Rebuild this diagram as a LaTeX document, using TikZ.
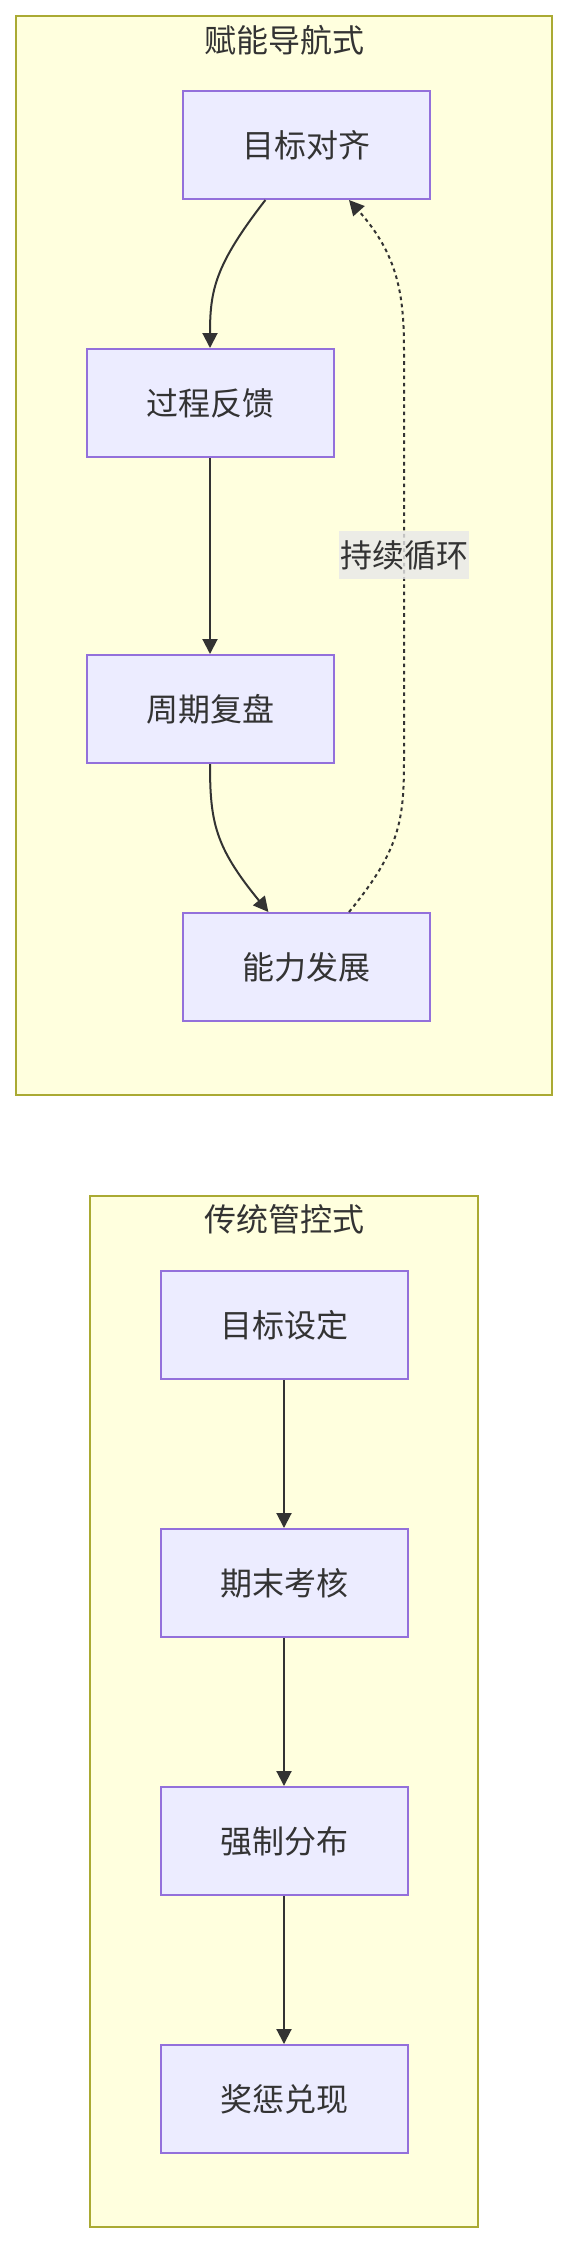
\documentclass[tikz,border=0pt]{standalone}
\usepackage{fontspec}
\setmainfont{Noto Sans CJK SC}
\usepackage{tikz}
\usetikzlibrary{arrows.meta,positioning,calc}
\definecolor{myFill}{RGB}{236,236,255}
\definecolor{myPurple}{RGB}{147,112,219}
\definecolor{myYellow}{RGB}{255,255,222}
\definecolor{myOlive}{RGB}{170,170,51}
\definecolor{myText}{RGB}{51,51,51}
\definecolor{myGrey}{RGB}{232,232,232}

\begin{document}
\begin{tikzpicture}[x=1pt, y=-1pt,
		box/.style={draw=myPurple, fill=myFill, line width=2pt, minimum width=247pt, minimum height=108pt, inner sep=0pt, text=myText, font=\fontsize{32pt}{38pt}\selectfont},
		group/.style={draw=myOlive, fill=myYellow, line width=2pt},
		title/.style={text=myText, font=\fontsize{32pt}{38pt}\selectfont},
		link/.style={draw=myText, line width=2pt, -{Triangle[length=15pt,width=15pt]}},
		loop/.style={link, dash pattern=on 3.6pt off 3.6pt},
		tag/.style={fill=myGrey, fill opacity=0.8, text opacity=1, text=myText, inner xsep=1pt, inner ysep=0pt, minimum height=48pt, font=\fontsize{32pt}{38pt}\selectfont}]
				\useasboundingbox (0,0) rectangle (569,2244);
				\draw[group] (16,16) rectangle (552,1095);
				\node[title] (t1) at (284,40) {赋能导航式};
				\node[box] (n1) at (306.4,145) {目标对齐};
				\node[box] (n2) at (210,403) {过程反馈};
				\node[box] (n3) at (210,709) {周期复盘};
				\node[box] (n4) at (306.4,967) {能力发展};
				\draw[link] ($(n1.south)+(-41,0)$) .. controls (215,265) and (210,290) .. (n2.north);
				\draw[link] (n2) -- (n3);
				\draw[link] (n3.south) .. controls (210,822) and (215,847) .. ($(n4.north)+(-38,0)$);
				\draw[loop] ($(n4.north)+(42.6,0)$) .. controls (400,850) and (404,820) .. (404,760)
					-- node[tag] (l1) {持续循环} (404,350) .. controls (404,295) and (398,255) .. ($(n1.south)+(42.6,0)$);
				\draw[group] (90,1196) rectangle (478,2227);
				\node[title] (t2) at (284,1219) {传统管控式};
				\node[box] (m1) at (284,1325) {目标设定};
				\node[box] (m2) at (284,1583) {期末考核};
				\node[box] (m3) at (284,1841) {强制分布};
				\node[box] (m4) at (284,2099) {奖惩兑现};
				\draw[link] (m1) -- (m2);
				\draw[link] (m2) -- (m3);
				\draw[link] (m3) -- (m4);
\end{tikzpicture}
\end{document}
